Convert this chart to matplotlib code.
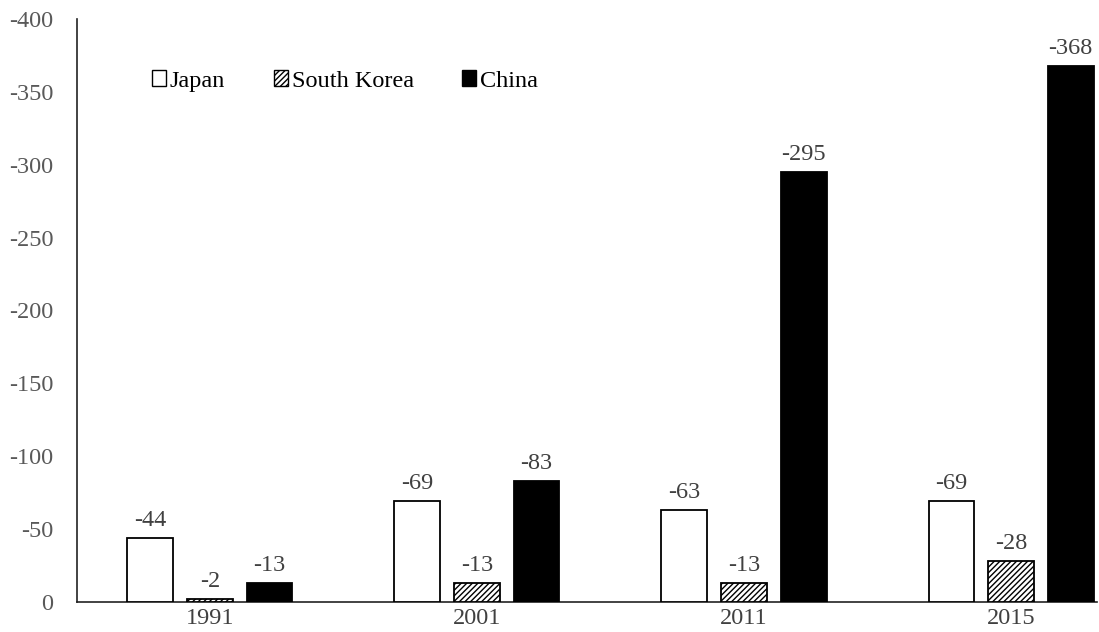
import matplotlib
matplotlib.use("Agg")
import matplotlib.pyplot as plt
import numpy as np
from matplotlib.patches import Patch

plt.rcParams['font.family'] = ['Liberation Serif', 'DejaVu Serif']
plt.rcParams['axes.unicode_minus'] = False
plt.rcParams['hatch.linewidth'] = 1.0

years = ["1991", "2001", "2011", "2015"]
series_names = ["Japan", "South Korea", "China"]
japan = [-44, -69, -63, -69]
south_korea = [-2, -13, -13, -28]
china = [-13, -83, -295, -368]
y_ticks = [0, -50, -100, -150, -200, -250, -300, -350, -400]

FS = 17.5

fig = plt.figure(figsize=(10.99, 6.32), dpi=100)
ax = fig.add_axes([77 / 1099, 1 - 602 / 632, (1097 - 77) / 1099, (602 - 19) / 632])

x = np.arange(len(years))
step = 0.223
width = 0.172

styles = [
    dict(facecolor="white", edgecolor="black", hatch=None),
    dict(facecolor="white", edgecolor="black", hatch="//////"),
    dict(facecolor="black", edgecolor="black", hatch=None),
]
data = [japan, south_korea, china]

for i, (vals, st) in enumerate(zip(data, styles)):
    xs = x + (i - 1) * step
    ax.bar(xs, vals, width=width, facecolor=st["facecolor"], edgecolor=st["edgecolor"],
           hatch=st["hatch"], linewidth=1.3, zorder=3)
    for xi, v in zip(xs, vals):
        ax.annotate(f"{v}", xy=(xi, v), xytext=(0, 5), textcoords="offset points",
                    ha="center", va="bottom", fontsize=FS, color="#404040")

ax.set_ylim(0, -400)
ax.set_xlim(-0.498, 3.322)
ax.set_yticks(y_ticks)
ax.set_yticklabels([str(t) for t in y_ticks])
ax.set_xticks(x)
ax.set_xticklabels(years)
ax.tick_params(axis="y", length=0, pad=17, labelsize=FS, labelcolor="#595959")
ax.tick_params(axis="x", length=0, pad=4, labelsize=FS, labelcolor="#404040")

for s in ["top", "right"]:
    ax.spines[s].set_visible(False)
ax.spines["left"].set_color("#222222")
ax.spines["left"].set_linewidth(1.2)
ax.spines["bottom"].set_color("#222222")
ax.spines["bottom"].set_linewidth(1.2)

handles = [Patch(facecolor=st["facecolor"], edgecolor="black", hatch=st["hatch"], linewidth=1.0)
           for st in styles]
fig.legend(handles, series_names, loc="center left",
           bbox_to_anchor=(140 / 1099, 1 - 81 / 632), bbox_transform=fig.transFigure,
           ncol=3, frameon=False, fontsize=FS, borderpad=0, handlelength=0.58,
           handleheight=0.58, handletextpad=0.15, columnspacing=2.0)

fig.savefig("out.png", dpi=100)
